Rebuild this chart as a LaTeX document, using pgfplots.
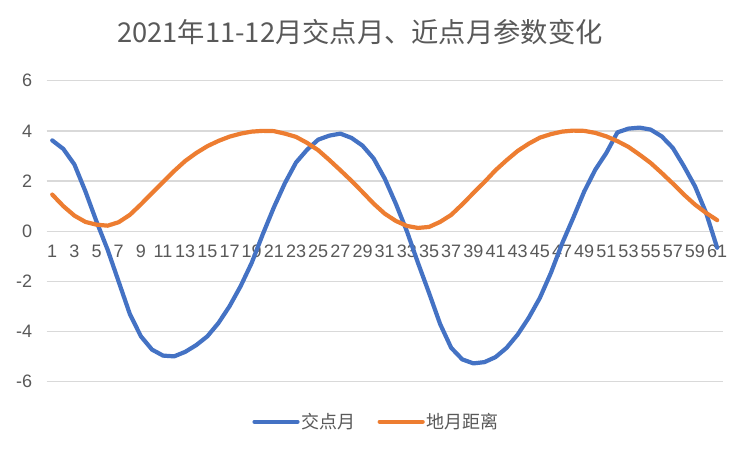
\documentclass[border=0pt]{standalone}
\usepackage{fontspec}
\setmainfont{Liberation Sans}
\newfontfamily\cjk{Noto Sans CJK SC}
\usepackage{pgfplots}
\pgfplotsset{compat=1.18}
\definecolor{jblue}{HTML}{4472C4}
\definecolor{dorange}{HTML}{ED7D31}
\definecolor{gridgray}{HTML}{D9D9D9}
\definecolor{txtgray}{HTML}{595959}
\begin{document}
\begin{tikzpicture}
  \useasboundingbox[fill=white] (0,0) rectangle (750bp,450bp);
  \begin{axis}[
      at={(46.7bp,68.3bp)}, anchor=south west,
      scale only axis,
      width=676bp, height=301bp,
      xmin=0.5, xmax=61.5,
      ymin=-6, ymax=6,
      axis x line=middle, axis y line=left,
      axis line style={draw=none},
      major tick length=0pt,
      xtick={1,3,...,61},
      ytick={-6,-4,...,6},
      yticklabels={-6,-4,-2,0,2,4,6},
      /pgf/number format/assume math mode=true,
      ymajorgrids,
      grid style={gridgray, line width=1.3bp},
      tick label style={font=\fontsize{18bp}{20bp}\selectfont, text=txtgray, inner sep=0pt},
      xticklabel style={anchor=center, yshift=-20bp},
      yticklabel style={anchor=east, xshift=-14.4bp},
      legend columns=2,
      legend style={at={(0.488,-0.133)}, anchor=center, draw=none, fill=none,
        font=\cjk\fontsize{18bp}{20bp}\selectfont, text=txtgray,
        /tikz/every even column/.append style={column sep=20bp}},
      legend image code/.code={\draw[#1] (0bp,0bp) -- (43bp,0bp);},
      every axis plot/.append style={line width=4.2bp, line cap=round, line join=round},
    ]
    \addplot[jblue] coordinates {
      (1,3.62) (2,3.28) (3,2.66) (4,1.58) (5,0.38) (6,-0.74) (7,-2.02) (8,-3.30)
      (9,-4.19) (10,-4.72) (11,-4.96) (12,-4.99) (13,-4.81) (14,-4.54) (15,-4.19)
      (16,-3.66) (17,-2.99) (18,-2.19) (19,-1.26) (20,-0.12) (21,0.95) (22,1.92)
      (23,2.74) (24,3.25) (25,3.65) (26,3.81) (27,3.89) (28,3.72) (29,3.41)
      (30,2.90) (31,2.10) (32,1.10) (33,0.00) (34,-1.26) (35,-2.46) (36,-3.70)
      (37,-4.65) (38,-5.11) (39,-5.27) (40,-5.22) (41,-5.02) (42,-4.65) (43,-4.12)
      (44,-3.45) (45,-2.66) (46,-1.66) (47,-0.50) (48,0.52) (49,1.58) (50,2.45)
      (51,3.12) (52,3.94) (53,4.09) (54,4.13) (55,4.05) (56,3.78) (57,3.32)
      (58,2.59) (59,1.79) (60,0.73) (61,-0.66)
    };
    \addlegendentry{交点月}
    \addplot[dorange] coordinates {
      (1,1.46) (2,1.00) (3,0.62) (4,0.37) (5,0.26) (6,0.22) (7,0.36) (8,0.65)
      (9,1.07) (10,1.52) (11,1.96) (12,2.40) (13,2.80) (14,3.12) (15,3.39)
      (16,3.60) (17,3.77) (18,3.89) (19,3.97) (20,4.00) (21,3.99) (22,3.89)
      (23,3.76) (24,3.52) (25,3.23) (26,2.84) (27,2.43) (28,2.01) (29,1.56)
      (30,1.10) (31,0.70) (32,0.41) (33,0.21) (34,0.13) (35,0.17) (36,0.37)
      (37,0.65) (38,1.07) (39,1.52) (40,1.96) (41,2.43) (42,2.83) (43,3.20)
      (44,3.49) (45,3.73) (46,3.87) (47,3.97) (48,4.01) (49,4.00) (50,3.92)
      (51,3.78) (52,3.59) (53,3.36) (54,3.05) (55,2.72) (56,2.32) (57,1.90)
      (58,1.46) (59,1.06) (60,0.73) (61,0.44)
    };
    \addlegendentry{地月距离}
  \end{axis}
  \node[anchor=center, text=txtgray, font=\cjk\fontsize{27.3bp}{30bp}\selectfont, inner sep=0pt]
    at (360bp,418bp) {2021年11-12月交点月、近点月参数变化};
\end{tikzpicture}
\end{document}
